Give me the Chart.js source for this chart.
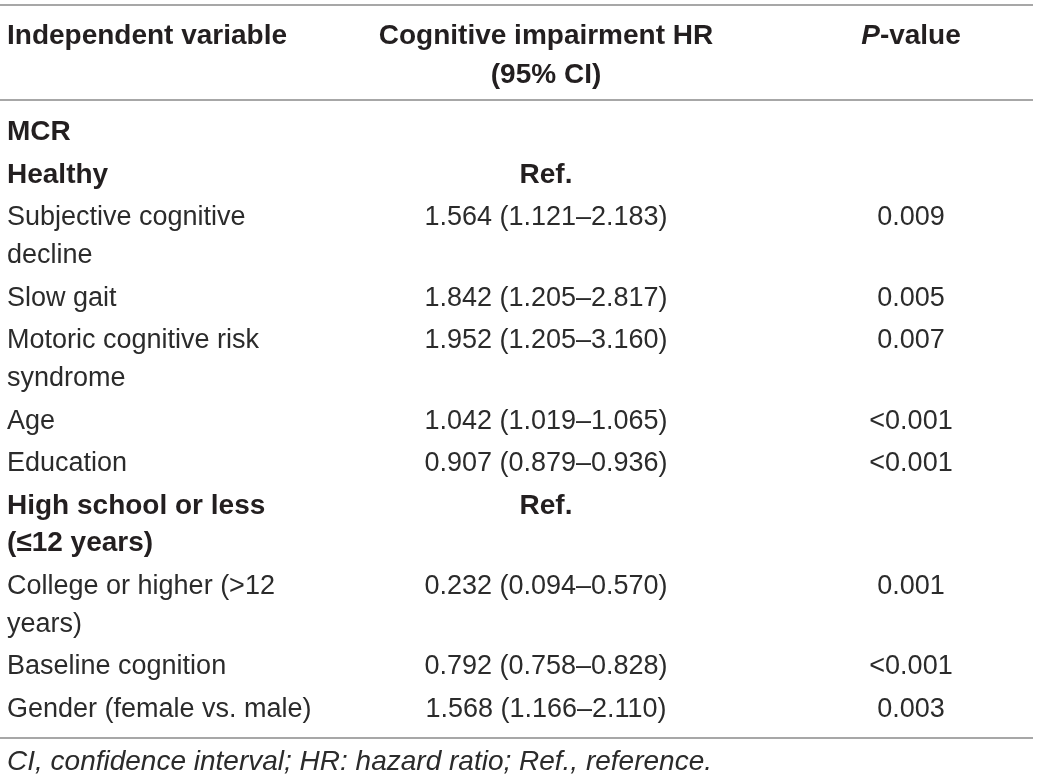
<!DOCTYPE html>
<html>
<head>
<meta charset="utf-8">
<title>Cognitive impairment HR</title>
<script src="https://cdn.jsdelivr.net/npm/chart.js@4"></script>
<style>
    body { margin: 0; background: #ffffff; }
    #table_chart { display: block; }
</style>
</head>
<body>
<canvas id="table_chart" width="1040" height="781"></canvas>
<script>
    // table content, one entry per row ("\n" = where the line wraps)
    const variables = [
        "MCR",
        "Healthy",
        "Subjective cognitive\ndecline",
        "Slow gait",
        "Motoric cognitive risk\nsyndrome",
        "Age",
        "Education",
        "High school or less\n(≤12 years)",
        "College or higher (>12\nyears)",
        "Baseline cognition",
        "Gender (female vs. male)"
    ];
    const hr_values = [
        "", "Ref.", "1.564 (1.121–2.183)", "1.842 (1.205–2.817)", "1.952 (1.205–3.160)",
        "1.042 (1.019–1.065)", "0.907 (0.879–0.936)", "Ref.", "0.232 (0.094–0.570)",
        "0.792 (0.758–0.828)", "1.568 (1.166–2.110)"
    ];
    const p_values = [
        "", "", "0.009", "0.005", "0.007", "<0.001", "<0.001", "", "0.001", "<0.001", "0.003"
    ];
    const bold_rows = [true, true, false, false, false, false, false, true, false, false, false];
    const headers = ["Independent variable", "Cognitive impairment HR\n(95% CI)", "P-value"];
    const footnote = "CI, confidence interval; HR: hazard ratio; Ref., reference.";

    // layout (in scale units, the scales map them onto the canvas)
    const col_left = 7;
    const col_hr = 546;
    const col_p = 911;
    const rule_end = 1033;
    const top_rule = 5;
    const head_base = 44;
    const head_line = 39;
    const head_rule = 100;
    const body_base = 140;
    const line_h = 37.5;
    const row_gap = 5.2;

    const FONT = "'Liberation Sans', Arial, Helvetica, sans-serif";
    const TXT = '#231f20';
    const TXT_LIGHT = '#2b2b2b';
    const RULE = '#a7a7a7';

    const tablePlugin = {
        id: 'tablePlugin',
        afterDraw(chart) {
            const ctx = chart.ctx;
            const xs = chart.scales.x;
            const ys = chart.scales.y;
            const X = v => xs.getPixelForValue(v);
            const Y = v => ys.getPixelForValue(v);

            function rule(y) {
                ctx.save();
                ctx.strokeStyle = RULE;
                ctx.lineWidth = 2;
                ctx.beginPath();
                ctx.moveTo(X(0), Y(y));
                ctx.lineTo(X(rule_end), Y(y));
                ctx.stroke();
                ctx.restore();
            }
            function text(str, x, y, align, font, color) {
                ctx.save();
                ctx.font = font;
                ctx.fillStyle = color;
                ctx.textAlign = align;
                ctx.textBaseline = 'alphabetic';
                ctx.fillText(str, X(x), Y(y));
                ctx.restore();
            }
            const bold = 'bold 28px ' + FONT;
            const bold_it = 'italic bold 28px ' + FONT;
            const reg = '27px ' + FONT;

            // header
            rule(top_rule);
            text(headers[0], col_left, head_base, 'left', bold, TXT);
            headers[1].split("\n").forEach((s, i) => {
                text(s, col_hr, head_base + i * head_line, 'center', bold, TXT);
            });
            // P-value: italic P + bold "-value", centred as a whole
            ctx.save();
            ctx.font = bold_it;
            const wP = ctx.measureText("P").width;
            ctx.font = bold;
            const wRest = ctx.measureText(headers[2].slice(1)).width;
            ctx.restore();
            const startP = X(col_p) - (wP + wRest) / 2;
            ctx.save();
            ctx.fillStyle = TXT;
            ctx.textAlign = 'left';
            ctx.font = bold_it;
            ctx.fillText("P", startP, Y(head_base));
            ctx.font = bold;
            ctx.fillText(headers[2].slice(1), startP + wP, Y(head_base));
            ctx.restore();
            rule(head_rule);

            // body rows
            let base = body_base;
            let last = base;
            variables.forEach((v, r) => {
                const lines = v.split("\n");
                const f = bold_rows[r] ? bold : reg;
                const c = bold_rows[r] ? TXT : TXT_LIGHT;
                lines.forEach((s, i) => {
                    text(s, col_left, base + i * line_h, 'left', f, c);
                    last = base + i * line_h;
                });
                if (hr_values[r]) {
                    const isRef = hr_values[r] === "Ref.";
                    text(hr_values[r], col_hr, base, 'center', isRef ? bold : reg, isRef ? TXT : TXT_LIGHT);
                }
                if (p_values[r]) {
                    text(p_values[r], col_p, base, 'center', reg, TXT_LIGHT);
                }
                base += lines.length * line_h + row_gap;
            });
            const bottom_rule = last + 21;
            rule(bottom_rule);
            text(footnote, col_left, bottom_rule + 32, 'left', 'italic 28px ' + FONT, TXT_LIGHT);
        }
    };

    new Chart(document.getElementById('table_chart'), {
        type: 'scatter',
        data: {
            datasets: [{
                data: [],
                pointRadius: 0
            }]
        },
        options: {
            responsive: false,
            animation: false,
            devicePixelRatio: 1,
            layout: { padding: 0 },
            plugins: {
                legend: { display: false },
                tooltip: { enabled: false }
            },
            scales: {
                x: { type: 'linear', min: 0, max: 1040, display: false },
                y: { type: 'linear', min: 0, max: 781, reverse: true, display: false }
            }
        },
        plugins: [tablePlugin]
    });
</script>
</body>
</html>
